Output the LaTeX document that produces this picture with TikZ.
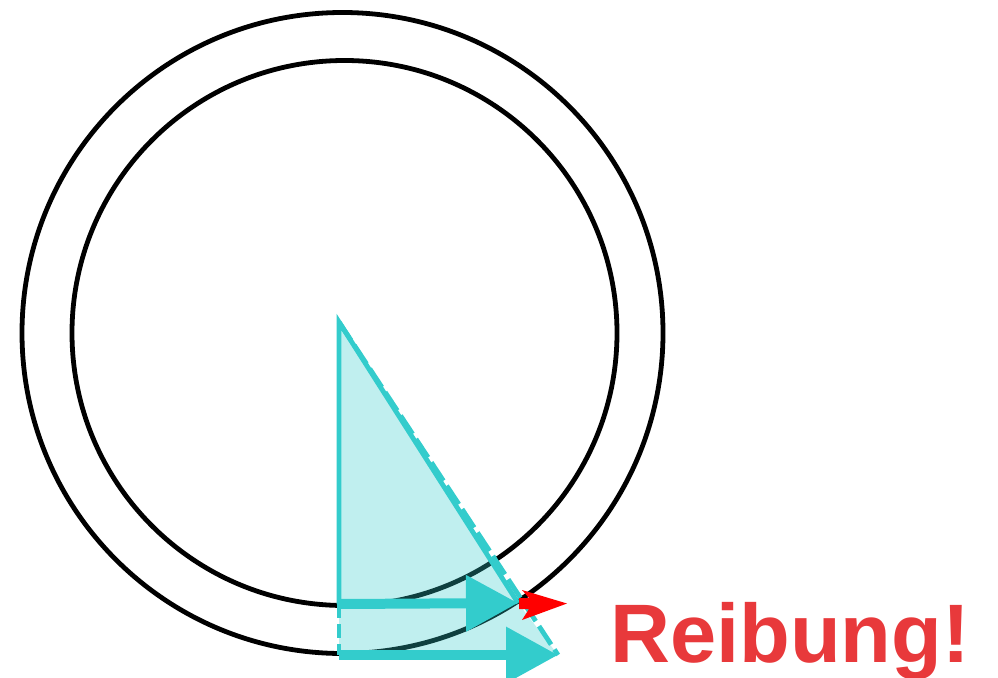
\documentclass[tikz,border=0pt]{standalone}
\usepackage{fontspec}
\setmainfont{Liberation Sans}
\usetikzlibrary{arrows.meta}
\definecolor{tq}{HTML}{33CCCC}
\definecolor{rb}{HTML}{E8393B}
\begin{document}
\begin{tikzpicture}[x=1pt,y=-1pt,
  ring/.style={draw=black,line width=4.8pt},
  wedge/.style={fill=tq,fill opacity=0.31,draw=none},
  edge/.style={draw=tq,line width=4.8pt,line join=miter},
  vel/.style={draw=tq,line width=10pt,-{Triangle[length=52pt,width=54pt]}}]
\useasboundingbox (0,0) rectangle (998,677);
% circles
\draw[ring] (342.5,333) circle (320.5);
\draw[ring] (344.5,333) circle (272.5);
% coordinates
\coordinate (apex) at (339,322);
\coordinate (a1) at (339,604);
\coordinate (b1) at (518,603);
\coordinate (a2) at (339,655);
\coordinate (b2) at (558,655);
% fills
\fill[wedge] (apex) -- (b1) -- (a1) -- cycle;
\fill[wedge] (a1) -- (b1) -- (b2) -- (a2) -- cycle;
% outlines
\draw[edge,dash pattern=on 22pt off 6pt] (apex) -- (b2);
\draw[edge,dash pattern=on 14pt off 6pt] (a1) -- (a2);
\draw[edge] (a1) -- (apex) -- (b1);
% velocity arrows
\draw[vel] (a1) -- (b1);
\draw[vel] (a2) -- (b2);
% red arrow
\fill[red] (519,598) -- (529,598) -- (522,590) -- (567,603.5) -- (522,620) -- (529,609) -- (519,609) -- cycle;
% label
\node[text=rb,font=\bfseries\fontsize{83}{90}\selectfont,anchor=base west,inner sep=0pt] (lbl) at (610,662) {Reibung!};
\end{tikzpicture}
\end{document}
